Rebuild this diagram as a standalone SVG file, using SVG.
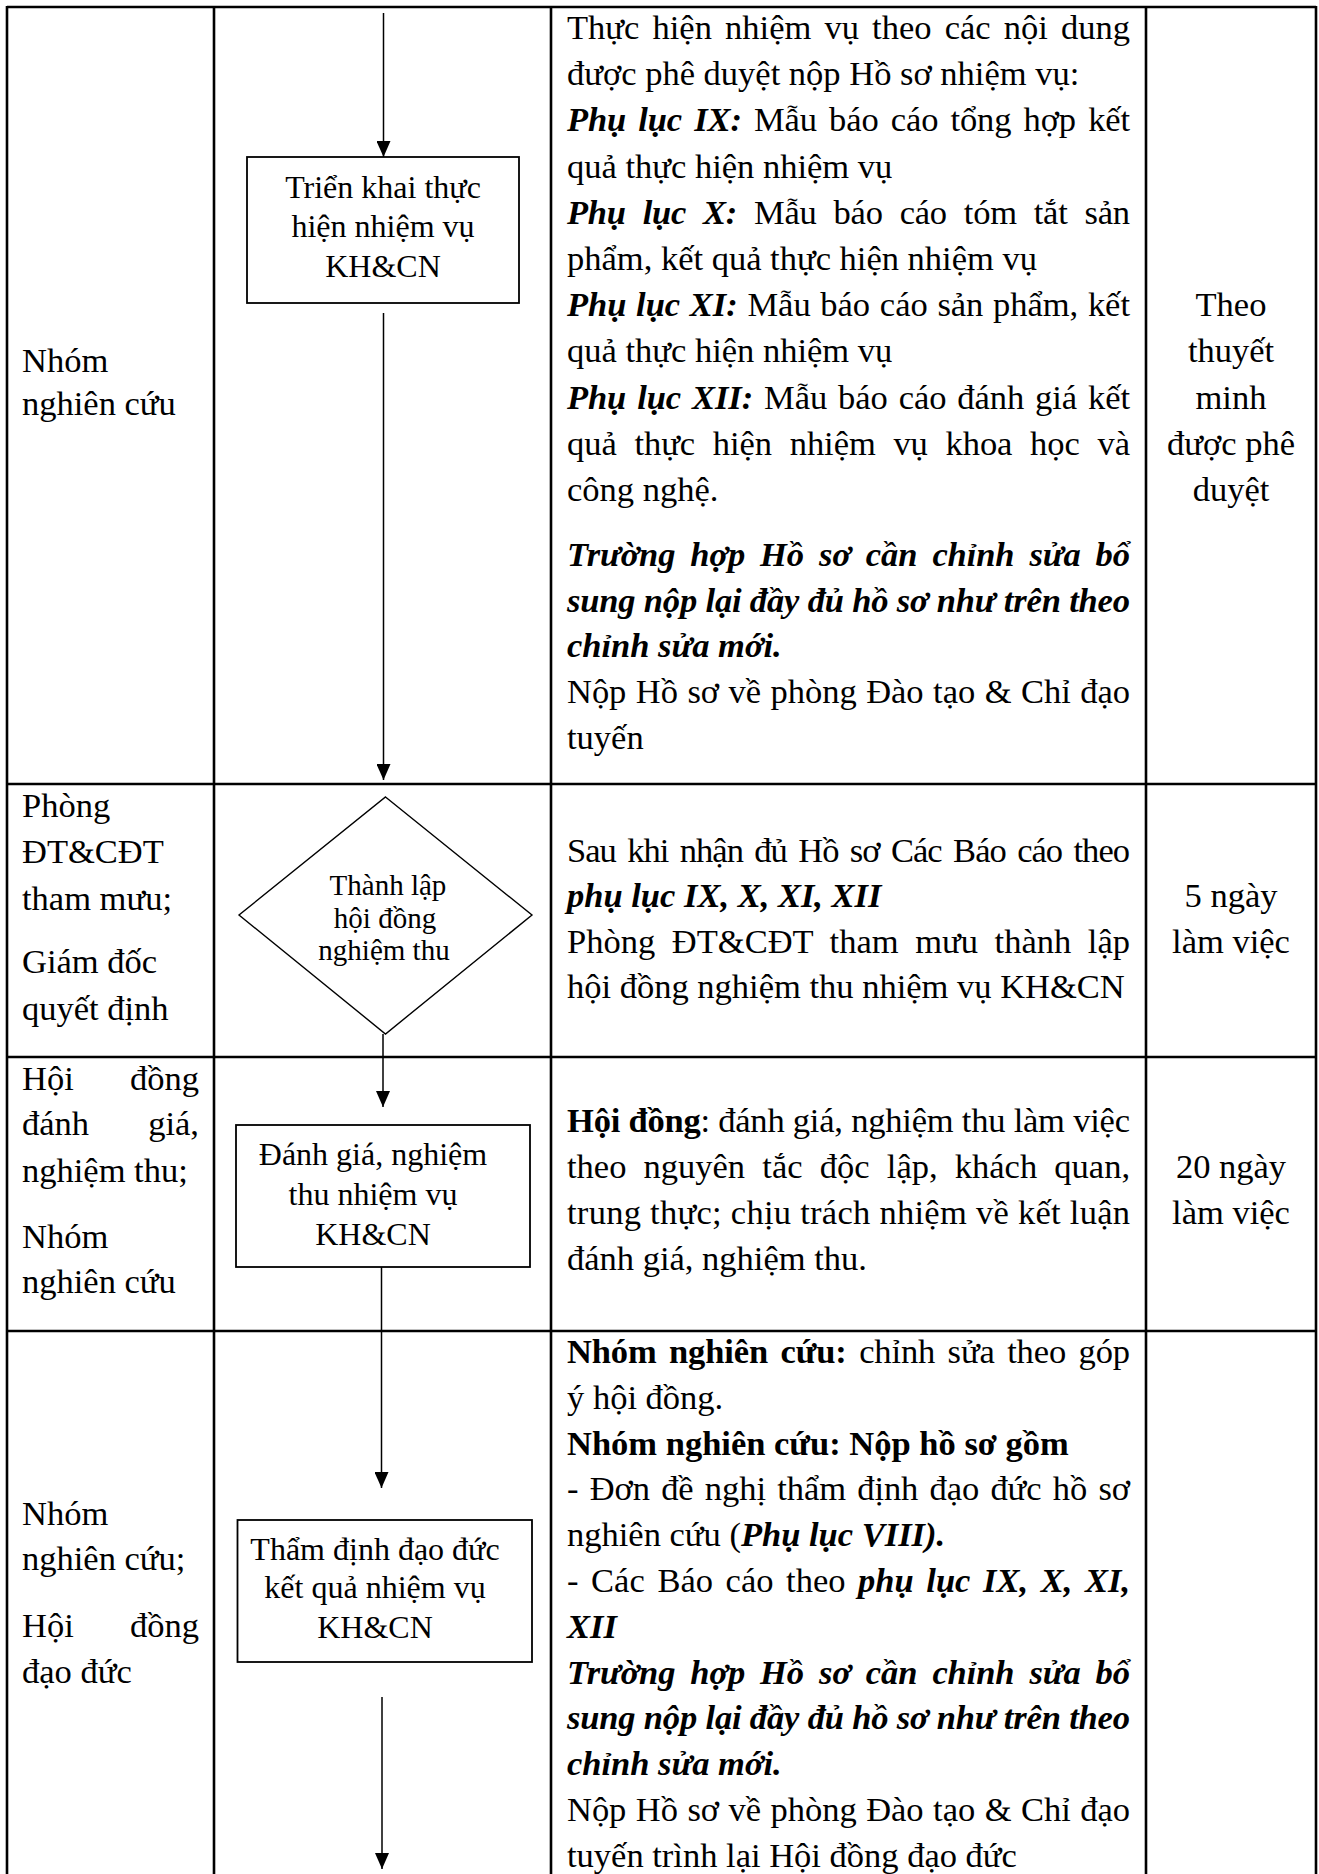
<svg xmlns="http://www.w3.org/2000/svg" width="1319" height="1874" viewBox="0 0 1319 1874">
<style>
.t{font-family:"Liberation Serif","Times New Roman",serif;font-size:34.5px;fill:#000}
.b{font-weight:bold}
.bi{font-weight:bold;font-style:italic}
.mid{text-anchor:middle}
.end{text-anchor:end}
.bx{font-size:32px;text-anchor:middle}
.dm{font-size:29px;text-anchor:middle}
.grid{stroke:#000;stroke-width:2.6;fill:none}
.node{fill:#fff;stroke:#000;stroke-width:1.8}
.dnode{fill:#fff;stroke:#000;stroke-width:1.4}
.conn{stroke:#000;stroke-width:1.5;fill:none;marker-end:url(#ah)}
</style>
<defs>
<marker id="ah" markerUnits="userSpaceOnUse" viewBox="0 0 16 14" refX="16" refY="7" markerWidth="16" markerHeight="14" orient="auto">
<path d="M0,0 L16,7 L0,14 Z" fill="#000"/>
</marker>
</defs>
<rect width="1319" height="1874" fill="#fff"/>

<g id="table" class="grid">
<line x1="7" y1="7" x2="1316" y2="7"/>
<line x1="7" y1="6" x2="7" y2="1874"/>
<line x1="214" y1="6" x2="214" y2="1874"/>
<line x1="551" y1="6" x2="551" y2="1874"/>
<line x1="1146" y1="6" x2="1146" y2="1874"/>
<line x1="1316" y1="6" x2="1316" y2="1874"/>
<line x1="7" y1="784" x2="1316" y2="784"/>
<line x1="7" y1="1057" x2="1316" y2="1057"/>
<line x1="7" y1="1331" x2="1316" y2="1331"/>
</g>

<g id="connectors">
<line class="conn" x1="383.5" y1="13" x2="383.5" y2="157"/>
<line class="conn" x1="383.5" y1="313" x2="383.5" y2="780"/>
<line class="conn" x1="383" y1="1034" x2="383" y2="1107"/>
<line class="conn" x1="381.5" y1="1267" x2="381.5" y2="1488"/>
<line class="conn" x1="382" y1="1697" x2="382" y2="1869"/>
</g>

<g id="node-trien-khai">
<rect class="node" x="247" y="157" width="272" height="146"/>
<text class="t bx" x="383" y="198">Triển khai thực</text>
<text class="t bx" x="383" y="237">hiện nhiệm vụ</text>
<text class="t bx" x="383" y="277">KH&amp;CN</text>
</g>

<g id="node-thanh-lap">
<polygon class="dnode" points="385.5,797 532,915 385.5,1034 239,915"/>
<text class="t dm" x="388" y="895">Thành lập</text>
<text class="t dm" x="385" y="928">hội đồng</text>
<text class="t dm" x="384" y="960">nghiệm thu</text>
</g>

<g id="node-danh-gia">
<rect class="node" x="236" y="1125" width="294" height="142"/>
<text class="t bx" x="373" y="1165">Đánh giá, nghiệm</text>
<text class="t bx" x="373" y="1205">thu nhiệm vụ</text>
<text class="t bx" x="373" y="1245">KH&amp;CN</text>
</g>

<g id="node-tham-dinh">
<rect class="node" x="237.5" y="1520" width="294.5" height="142"/>
<text class="t bx" x="375" y="1560">Thẩm định đạo đức</text>
<text class="t bx" x="375" y="1598">kết quả nhiệm vụ</text>
<text class="t bx" x="375" y="1638">KH&amp;CN</text>
</g>

<g id="col1-actors">
<text class="t" x="22" y="372">Nhóm</text>
<text class="t" x="22" y="415">nghiên cứu</text>

<text class="t" x="22" y="817">Phòng</text>
<text class="t" x="22" y="863">ĐT&amp;CĐT</text>
<text class="t" x="22" y="910">tham mưu;</text>
<text class="t" x="22" y="973">Giám đốc</text>
<text class="t" x="22" y="1020">quyết định</text>

<text class="t" x="22" y="1090">Hội</text>
<text class="t end" x="199" y="1090">đồng</text>
<text class="t" x="22" y="1135">đánh</text>
<text class="t end" x="199" y="1135">giá,</text>
<text class="t" x="22" y="1182">nghiệm thu;</text>
<text class="t" x="22" y="1248">Nhóm</text>
<text class="t" x="22" y="1293">nghiên cứu</text>

<text class="t" x="22" y="1525">Nhóm</text>
<text class="t" x="22" y="1570">nghiên cứu;</text>
<text class="t" x="22" y="1637">Hội</text>
<text class="t end" x="199" y="1637">đồng</text>
<text class="t" x="22" y="1683">đạo đức</text>
</g>

<g id="col3-row1">
<text class="t" x="567" y="39" word-spacing="4.5" textLength="563">Thực hiện nhiệm vụ theo các nội dung</text>
<text class="t" x="567" y="85.2">được phê duyệt nộp Hồ sơ nhiệm vụ:</text>
<text class="t" x="567" y="131.4" word-spacing="3.8" textLength="563"><tspan class="bi">Phụ lục IX:</tspan> Mẫu báo cáo tổng hợp kết</text>
<text class="t" x="567" y="177.6">quả thực hiện nhiệm vụ</text>
<text class="t" x="567" y="223.8" word-spacing="8.7" textLength="563"><tspan class="bi">Phụ lục X:</tspan> Mẫu báo cáo tóm tắt sản</text>
<text class="t" x="567" y="270">phẩm, kết quả thực hiện nhiệm vụ</text>
<text class="t" x="567" y="316.2" word-spacing="1.2" textLength="563"><tspan class="bi">Phụ lục XI:</tspan> Mẫu báo cáo sản phẩm, kết</text>
<text class="t" x="567" y="362.4">quả thực hiện nhiệm vụ</text>
<text class="t" x="567" y="408.6" word-spacing="2.4" textLength="563"><tspan class="bi">Phụ lục XII:</tspan> Mẫu báo cáo đánh giá kết</text>
<text class="t" x="567" y="454.8" word-spacing="9.1" textLength="563">quả thực hiện nhiệm vụ khoa học và</text>
<text class="t" x="567" y="501">công nghệ.</text>
<text class="t bi" x="567" y="566" word-spacing="6.5" textLength="563">Trường hợp Hồ sơ cần chỉnh sửa bổ</text>
<text class="t bi" x="567" y="611.7" textLength="563">sung nộp lại đầy đủ hồ sơ như trên theo</text>
<text class="t bi" x="567" y="657.4">chỉnh sửa mới.</text>
<text class="t" x="567" y="703.1" word-spacing="0.9" textLength="563">Nộp Hồ sơ về phòng Đào tạo &amp; Chỉ đạo</text>
<text class="t" x="567" y="748.8">tuyến</text>
</g>

<g id="col3-row2">
<text class="t" x="567" y="862" word-spacing="3.7" textLength="563">Sau khi nhận đủ Hồ sơ Các Báo cáo theo</text>
<text class="t bi" x="567" y="907">phụ lục IX, X, XI, XII</text>
<text class="t" x="567" y="953" word-spacing="7.9" textLength="563">Phòng ĐT&amp;CĐT tham mưu thành lập</text>
<text class="t" x="567" y="998">hội đồng nghiệm thu nhiệm vụ KH&amp;CN</text>
</g>

<g id="col3-row3">
<text class="t" x="567" y="1132" textLength="563"><tspan class="b">Hội đồng</tspan>: đánh giá, nghiệm thu làm việc</text>
<text class="t" x="567" y="1178" word-spacing="8.6" textLength="563">theo nguyên tắc độc lập, khách quan,</text>
<text class="t" x="567" y="1224" textLength="563">trung thực; chịu trách nhiệm về kết luận</text>
<text class="t" x="567" y="1270">đánh giá, nghiệm thu.</text>
</g>

<g id="col3-row4">
<text class="t" x="567" y="1363" word-spacing="4" textLength="563"><tspan class="b">Nhóm nghiên cứu:</tspan> chỉnh sửa theo góp</text>
<text class="t" x="567" y="1408.8">ý hội đồng.</text>
<text class="t b" x="567" y="1454.6">Nhóm nghiên cứu: Nộp hồ sơ gồm</text>
<text class="t" x="567" y="1500.4" word-spacing="2.7" textLength="563">- Đơn đề nghị thẩm định đạo đức hồ sơ</text>
<text class="t" x="567" y="1546.2">nghiên cứu (<tspan class="bi">Phụ lục VIII).</tspan></text>
<text class="t" x="567" y="1592" word-spacing="4" textLength="563">- Các Báo cáo theo <tspan class="bi">phụ lục IX, X, XI,</tspan></text>
<text class="t bi" x="567" y="1637.8">XII</text>
<text class="t bi" x="567" y="1683.6" word-spacing="6.5" textLength="563">Trường hợp Hồ sơ cần chỉnh sửa bổ</text>
<text class="t bi" x="567" y="1729.4" textLength="563">sung nộp lại đầy đủ hồ sơ như trên theo</text>
<text class="t bi" x="567" y="1775.2">chỉnh sửa mới.</text>
<text class="t" x="567" y="1821" word-spacing="0.9" textLength="563">Nộp Hồ sơ về phòng Đào tạo &amp; Chỉ đạo</text>
<text class="t" x="567" y="1866.8">tuyến trình lại Hội đồng đạo đức</text>
</g>

<g id="col4-time">
<text class="t mid" x="1231" y="316.2">Theo</text>
<text class="t mid" x="1231" y="362.4">thuyết</text>
<text class="t mid" x="1231" y="408.6">minh</text>
<text class="t mid" x="1231" y="454.8">được phê</text>
<text class="t mid" x="1231" y="501">duyệt</text>
<text class="t mid" x="1231" y="907">5 ngày</text>
<text class="t mid" x="1231" y="953">làm việc</text>
<text class="t mid" x="1231" y="1178">20 ngày</text>
<text class="t mid" x="1231" y="1224">làm việc</text>
</g>
</svg>
